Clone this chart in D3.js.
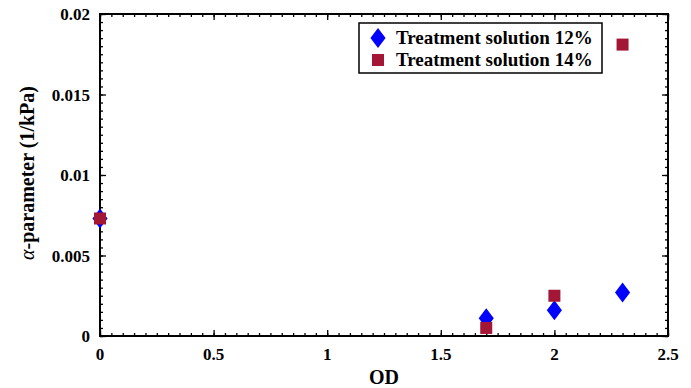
<!DOCTYPE html>
<html>
<head>
<meta charset="utf-8">
<script src="https://cdn.jsdelivr.net/npm/d3@7"></script>
<style>
  body { margin: 0; background: #fff; }
  text { font-family: "Liberation Serif", "DejaVu Serif", serif; }
</style>
</head>
<body>
<div id="chart"></div>
<script>
// data
var odValues = [0, 1.7, 2.0, 2.3];
var alpha12 = [0.0073, 0.0011, 0.0016, 0.0027];
var alpha14 = [0.0073, 0.0005, 0.0025, 0.0181];
var seriesNames = ["Treatment solution 12%", "Treatment solution 14%"];
var xTicks = [0, 0.5, 1, 1.5, 2, 2.5];
var yTicks = [0, 0.005, 0.01, 0.015, 0.02];

var margin = { top: 14, right: 23, bottom: 52, left: 100 },
    width = 691 - margin.left - margin.right,
    height = 388 - margin.top - margin.bottom;

var svg = d3.select("#chart")
    .append("svg")
    .attr("width", 691)
    .attr("height", 388)
    .append("g")
    .attr("transform", "translate(" + margin.left + "," + margin.top + ")");

var x = d3.scaleLinear().domain([0, 2.5]).range([0, width]);
var y = d3.scaleLinear().domain([0, 0.02]).range([height, 0]);

// minor ticks
var xMinor = d3.range(0, 2.5001, 0.05);
var yMinor = d3.range(0, 0.02001, 0.0005);

function tickAxis(axis, g) {
    g.call(axis).call(function (s) {
        s.select(".domain").remove();
        s.selectAll("line").attr("stroke", "#000").attr("stroke-width", 1.3);
    });
}

// bottom / top
tickAxis(d3.axisBottom(x).tickValues(xMinor).tickSize(-3).tickFormat(""),
    svg.append("g").attr("transform", "translate(0," + height + ")"));
tickAxis(d3.axisBottom(x).tickValues(xTicks).tickSize(-6).tickFormat(""),
    svg.append("g").attr("transform", "translate(0," + height + ")"));
tickAxis(d3.axisTop(x).tickValues(xMinor).tickSize(-3).tickFormat(""),
    svg.append("g"));
tickAxis(d3.axisTop(x).tickValues(xTicks).tickSize(-6).tickFormat(""),
    svg.append("g"));
// left / right
tickAxis(d3.axisLeft(y).tickValues(yMinor).tickSize(-3).tickFormat(""),
    svg.append("g"));
tickAxis(d3.axisLeft(y).tickValues(yTicks).tickSize(-6).tickFormat(""),
    svg.append("g"));
tickAxis(d3.axisRight(y).tickValues(yMinor).tickSize(-3).tickFormat(""),
    svg.append("g").attr("transform", "translate(" + width + ",0)"));
tickAxis(d3.axisRight(y).tickValues(yTicks).tickSize(-6).tickFormat(""),
    svg.append("g").attr("transform", "translate(" + width + ",0)"));

// frame
svg.append("rect")
    .attr("width", width)
    .attr("height", height)
    .attr("fill", "none")
    .attr("stroke", "#000")
    .attr("stroke-width", 2);

// tick labels
svg.append("g").selectAll("text")
    .data(xTicks).enter()
    .append("text")
    .attr("x", function (d) { return x(d); })
    .attr("y", height + 24)
    .attr("text-anchor", "middle")
    .style("font-size", "17px")
    .style("font-weight", "bold")
    .text(function (d) { return d; });

svg.append("g").selectAll("text")
    .data(yTicks).enter()
    .append("text")
    .attr("x", -10)
    .attr("y", function (d) { return y(d) + 6; })
    .attr("text-anchor", "end")
    .style("font-size", "17px")
    .style("font-weight", "bold")
    .text(function (d) { return d; });

// axis titles
svg.append("text")
    .attr("x", width / 2)
    .attr("y", height + 48)
    .attr("text-anchor", "middle")
    .style("font-size", "20px")
    .style("font-weight", "bold")
    .text("OD");

var yTitle = svg.append("text")
    .attr("transform", "rotate(-90)")
    .attr("x", -(height / 2) + 2)
    .attr("y", -66)
    .attr("text-anchor", "middle")
    .style("font-size", "20px")
    .style("font-weight", "bold");
yTitle.append("tspan").style("font-style", "italic").style("font-weight", "normal").text("\u03b1");
yTitle.append("tspan").text("-parameter (1/kPa)");

var diamond = d3.symbol().type(d3.symbolDiamond).size(150);
var diamondScale = " scale(1.15,0.88)";
var blue = "#0000ff", red = "#a31636";

// series 12% (diamonds)
svg.append("g").selectAll("path")
    .data(odValues.map(function (d, i) { return [d, alpha12[i]]; }))
    .enter()
    .append("path")
    .attr("d", diamond)
    .attr("transform", function (d) { return "translate(" + x(d[0]) + "," + y(d[1]) + ")" + diamondScale; })
    .attr("fill", blue);

// series 14% (squares)
svg.append("g").selectAll("rect")
    .data(odValues.map(function (d, i) { return [d, alpha14[i]]; }))
    .enter()
    .append("rect")
    .attr("x", function (d) { return x(d[0]) - 6; })
    .attr("y", function (d) { return y(d[1]) - 6; })
    .attr("width", 12)
    .attr("height", 12)
    .attr("fill", red);

// legend
var legend = svg.append("g").attr("transform", "translate(259,9)");
legend.append("rect")
    .attr("width", 243)
    .attr("height", 50)
    .attr("fill", "#fff")
    .attr("stroke", "#000")
    .attr("stroke-width", 1.5);
legend.append("path")
    .attr("d", diamond)
    .attr("transform", "translate(19,15)" + diamondScale)
    .attr("fill", blue);
legend.append("rect")
    .attr("x", 13).attr("y", 31)
    .attr("width", 12).attr("height", 12)
    .attr("fill", red);
legend.selectAll("text.lab")
    .data(seriesNames).enter()
    .append("text")
    .attr("class", "lab")
    .attr("x", 37)
    .attr("y", function (d, i) { return 21 + i * 22; })
    .style("font-size", "19px")
    .style("font-weight", "bold")
    .text(function (d) { return d; });
</script>
</body>
</html>
